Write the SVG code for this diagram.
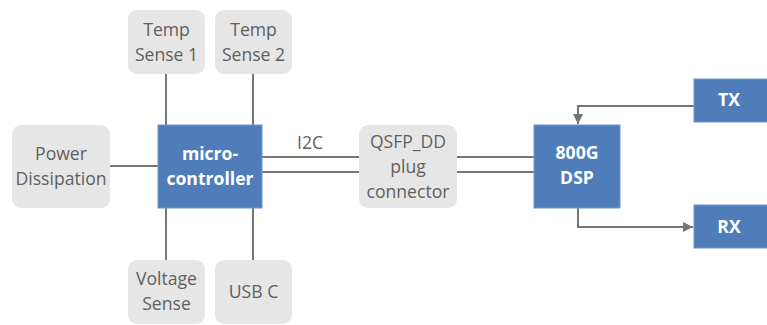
<svg xmlns="http://www.w3.org/2000/svg" width="767" height="325" viewBox="0 0 767 325">
<defs>
<style>
.g{fill:#e6e6e6;}
.b{fill:#4f7dba;stroke:#6f96cc;stroke-width:1;}
.gt{font-family:"Open Sans","DejaVu Sans",sans-serif;font-size:17.6px;fill:#5f5f5f;text-anchor:middle;}
.bt{font-family:"Open Sans","DejaVu Sans",sans-serif;font-size:17.6px;font-weight:bold;fill:#ffffff;text-anchor:middle;}
.c{stroke:#767676;stroke-width:2;fill:none;}
</style>
<marker id="ah" viewBox="0 0 10 10" refX="10" refY="5" markerWidth="5" markerHeight="5" orient="auto" markerUnits="strokeWidth">
<path d="M0,0 L10,5 L0,10 z" fill="#767676"/>
</marker>
</defs>
<rect width="767" height="325" fill="#ffffff"/>
<g id="connectors">
<line class="c" x1="166" y1="74" x2="166" y2="125"/>
<line class="c" x1="253" y1="74" x2="253" y2="125"/>
<line class="c" x1="166" y1="208" x2="166" y2="260"/>
<line class="c" x1="253" y1="208" x2="253" y2="260"/>
<line class="c" x1="110" y1="166" x2="158" y2="166"/>
<line class="c" x1="262" y1="157" x2="359" y2="157"/>
<line class="c" x1="262" y1="172" x2="359" y2="172"/>
<line class="c" x1="457" y1="157" x2="534" y2="157"/>
<line class="c" x1="457" y1="172" x2="534" y2="172"/>
<polyline class="c" points="694,106 578,106 578,124" marker-end="url(#ah)"/>
<polyline class="c" points="578,208 578,227 693,227" marker-end="url(#ah)"/>
<text class="gt" x="310" y="149">I2C</text>
</g>
<g id="temp1"><rect class="g" x="128" y="10" width="77" height="64" rx="9"/><text class="gt" x="166.5" y="36">Temp</text><text class="gt" x="166.5" y="61">Sense 1</text></g>
<g id="temp2"><rect class="g" x="215" y="10" width="77" height="64" rx="9"/><text class="gt" x="253.5" y="36">Temp</text><text class="gt" x="253.5" y="61">Sense 2</text></g>
<g id="power"><rect class="g" x="12" y="125" width="98" height="83" rx="9"/><text class="gt" x="61" y="160">Power</text><text class="gt" x="61" y="185">Dissipation</text></g>
<g id="micro"><rect class="b" x="158" y="125" width="104" height="83"/><text class="bt" x="210" y="160">micro-</text><text class="bt" x="210" y="185">controller</text></g>
<g id="voltage"><rect class="g" x="128" y="260" width="77" height="64" rx="9"/><text class="gt" x="166.5" y="285">Voltage</text><text class="gt" x="166.5" y="310">Sense</text></g>
<g id="usbc"><rect class="g" x="215" y="260" width="77" height="64" rx="9"/><text class="gt" x="253.5" y="298">USB C</text></g>
<g id="qsfp"><rect class="g" x="359" y="125" width="98" height="83" rx="9"/><text class="gt" x="408" y="148">QSFP_DD</text><text class="gt" x="408" y="173">plug</text><text class="gt" x="408" y="198">connector</text></g>
<g id="dsp"><rect class="b" x="534" y="125" width="86" height="83"/><text class="bt" x="577" y="159">800G</text><text class="bt" x="577" y="184">DSP</text></g>
<g id="tx"><rect class="b" x="694" y="79" width="80" height="43"/><text class="bt" x="729" y="106">TX</text></g>
<g id="rx"><rect class="b" x="694" y="205" width="80" height="43"/><text class="bt" x="729" y="233">RX</text></g>
</svg>
